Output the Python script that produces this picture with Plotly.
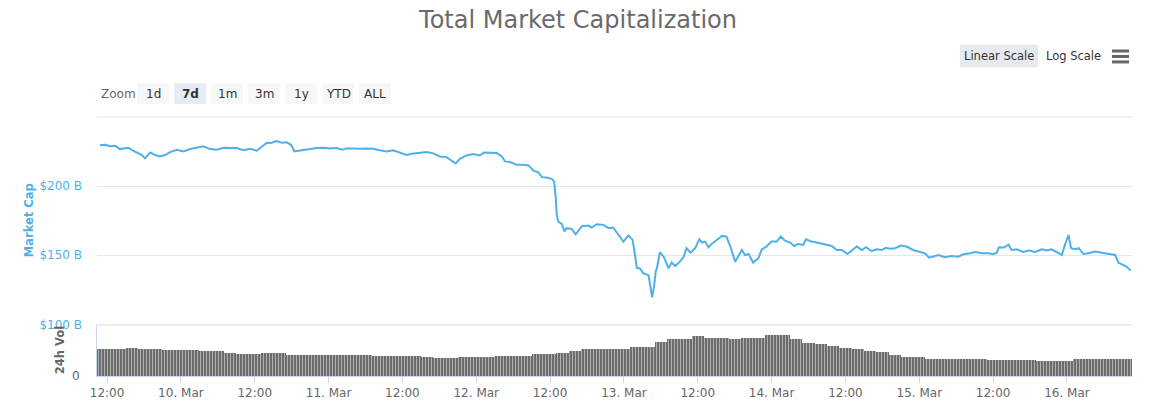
import pandas as pd
import plotly.graph_objects as go

# ---------------- data ----------------
mc_times = [
    "2020-03-09 10:50", "2020-03-09 11:40", "2020-03-09 12:30", "2020-03-09 13:20", "2020-03-09 14:05",
    "2020-03-09 14:40", "2020-03-09 15:30", "2020-03-09 16:00", "2020-03-09 16:50", "2020-03-09 17:40",
    "2020-03-09 18:10", "2020-03-09 19:00", "2020-03-09 19:50", "2020-03-09 20:35", "2020-03-09 21:25",
    "2020-03-09 22:15", "2020-03-09 23:20", "2020-03-10 00:25", "2020-03-10 01:30", "2020-03-10 02:35",
    "2020-03-10 03:40", "2020-03-10 04:45", "2020-03-10 05:50", "2020-03-10 06:55", "2020-03-10 08:00",
    "2020-03-10 09:05", "2020-03-10 10:10", "2020-03-10 11:15", "2020-03-10 12:20", "2020-03-10 13:10",
    "2020-03-10 13:55", "2020-03-10 14:45", "2020-03-10 15:30", "2020-03-10 16:25", "2020-03-10 17:10",
    "2020-03-10 17:55", "2020-03-10 18:25", "2020-03-10 19:05", "2020-03-10 19:55", "2020-03-10 21:00",
    "2020-03-10 22:05", "2020-03-10 23:10", "2020-03-11 00:15", "2020-03-11 01:20", "2020-03-11 02:10",
    "2020-03-11 02:55", "2020-03-11 04:00", "2020-03-11 05:05", "2020-03-11 06:10", "2020-03-11 07:15",
    "2020-03-11 08:20", "2020-03-11 09:25", "2020-03-11 10:30", "2020-03-11 11:35", "2020-03-11 12:40",
    "2020-03-11 13:30", "2020-03-11 14:35", "2020-03-11 15:55", "2020-03-11 17:00", "2020-03-11 18:05",
    "2020-03-11 19:10", "2020-03-11 20:00", "2020-03-11 20:40", "2020-03-11 21:20", "2020-03-11 22:25",
    "2020-03-11 23:30", "2020-03-12 00:35", "2020-03-12 01:15", "2020-03-12 02:15", "2020-03-12 03:20",
    "2020-03-12 04:10", "2020-03-12 04:40", "2020-03-12 05:30", "2020-03-12 06:35", "2020-03-12 07:40",
    "2020-03-12 08:30", "2020-03-12 09:15", "2020-03-12 10:05", "2020-03-12 10:40", "2020-03-12 11:25",
    "2020-03-12 12:15", "2020-03-12 12:40", "2020-03-12 12:55", "2020-03-12 13:05", "2020-03-12 13:20",
    "2020-03-12 13:55", "2020-03-12 14:20", "2020-03-12 14:40", "2020-03-12 15:30", "2020-03-12 16:10",
    "2020-03-12 17:10", "2020-03-12 18:15", "2020-03-12 18:45", "2020-03-12 19:35", "2020-03-12 20:40",
    "2020-03-12 21:30", "2020-03-12 22:15", "2020-03-12 23:05", "2020-03-12 23:55", "2020-03-13 00:45",
    "2020-03-13 01:25", "2020-03-13 01:50", "2020-03-13 02:05", "2020-03-13 02:35", "2020-03-13 03:10",
    "2020-03-13 04:00", "2020-03-13 04:20", "2020-03-13 04:35", "2020-03-13 04:55", "2020-03-13 05:10",
    "2020-03-13 05:25", "2020-03-13 05:50", "2020-03-13 06:30", "2020-03-13 07:15", "2020-03-13 07:45",
    "2020-03-13 08:20", "2020-03-13 09:05", "2020-03-13 09:40", "2020-03-13 10:10", "2020-03-13 10:50",
    "2020-03-13 11:35", "2020-03-13 12:15", "2020-03-13 12:40", "2020-03-13 13:10", "2020-03-13 13:45",
    "2020-03-13 14:15", "2020-03-13 15:05", "2020-03-13 15:55", "2020-03-13 16:40", "2020-03-13 17:20",
    "2020-03-13 18:05", "2020-03-13 18:35", "2020-03-13 19:10", "2020-03-13 19:40", "2020-03-13 20:15",
    "2020-03-13 21:00", "2020-03-13 21:50", "2020-03-13 22:25", "2020-03-13 23:10", "2020-03-14 00:00",
    "2020-03-14 00:50", "2020-03-14 01:30", "2020-03-14 02:10", "2020-03-14 03:00", "2020-03-14 03:40",
    "2020-03-14 04:20", "2020-03-14 05:10", "2020-03-14 05:35", "2020-03-14 06:30", "2020-03-14 07:20",
    "2020-03-14 08:10", "2020-03-14 08:55", "2020-03-14 09:45", "2020-03-14 10:35", "2020-03-14 11:25",
    "2020-03-14 12:20", "2020-03-14 13:00", "2020-03-14 13:50", "2020-03-14 14:40", "2020-03-14 15:20",
    "2020-03-14 16:15", "2020-03-14 17:05", "2020-03-14 17:55", "2020-03-14 18:35", "2020-03-14 19:15",
    "2020-03-14 20:05", "2020-03-14 21:00", "2020-03-14 21:55", "2020-03-14 23:00", "2020-03-15 00:05",
    "2020-03-15 00:55", "2020-03-15 01:35", "2020-03-15 02:15", "2020-03-15 03:05", "2020-03-15 04:10",
    "2020-03-15 05:15", "2020-03-15 06:20", "2020-03-15 07:10", "2020-03-15 08:15", "2020-03-15 09:05",
    "2020-03-15 10:10", "2020-03-15 11:15", "2020-03-15 12:00", "2020-03-15 12:35", "2020-03-15 12:55",
    "2020-03-15 13:45", "2020-03-15 14:30", "2020-03-15 15:00", "2020-03-15 15:50", "2020-03-15 16:55",
    "2020-03-15 17:45", "2020-03-15 18:50", "2020-03-15 19:55", "2020-03-15 20:40", "2020-03-15 21:30",
    "2020-03-15 22:20", "2020-03-15 23:10", "2020-03-15 23:40", "2020-03-16 00:15", "2020-03-16 00:40",
    "2020-03-16 01:20", "2020-03-16 01:55", "2020-03-16 02:40", "2020-03-16 03:30", "2020-03-16 04:35",
    "2020-03-16 05:40", "2020-03-16 06:45", "2020-03-16 07:50", "2020-03-16 08:20", "2020-03-16 09:10",
    "2020-03-16 09:40", "2020-03-16 10:20",
]
mc_values = [
    229.5, 229.9, 228.8, 229.2, 226.8, 227.0, 227.8, 226.3, 224.6, 222.5,
    220.1, 224.4, 222.5, 221.5, 222.5, 224.6, 226.3, 225.1, 226.8, 228.0,
    228.8, 226.8, 226.3, 227.8, 227.8, 227.5, 225.9, 227.0, 225.6, 228.8,
    231.2, 231.4, 232.6, 231.4, 231.7, 229.9, 225.1, 225.6, 225.9, 226.8,
    227.5, 227.8, 227.3, 227.5, 226.3, 227.3, 227.3, 227.0, 227.3, 227.0,
    225.9, 225.1, 225.9, 224.4, 222.5, 223.4, 223.9, 224.6, 223.7, 221.5,
    221.0, 218.3, 216.4, 219.8, 222.2, 223.2, 222.2, 224.4, 224.4, 223.9,
    221.5, 217.9, 217.4, 215.4, 215.4, 215.0, 211.4, 209.9, 206.5, 206.3,
    205.3, 203.4, 191.3, 179.2, 174.4, 172.5, 167.2, 169.6, 169.1, 165.2,
    171.0, 171.5, 170.1, 172.5, 172.0, 169.6, 170.1, 164.7, 159.9, 164.3,
    161.1, 149.0, 141.0, 140.5, 136.9, 135.5, 127.3, 119.5, 128.5, 138.2,
    141.8, 152.3, 148.6, 140.6, 144.7, 142.2, 145.4, 148.6, 155.1, 152.0,
    155.1, 161.6, 159.2, 159.9, 155.8, 158.2, 161.1, 164.0, 163.5, 155.8,
    145.4, 149.5, 153.8, 150.2, 150.9, 144.7, 147.8, 154.3, 156.3, 159.9,
    159.9, 163.5, 160.6, 159.2, 156.7, 158.2, 157.5, 161.6, 159.9, 159.2,
    158.2, 157.2, 156.7, 153.8, 153.8, 150.9, 153.4, 156.3, 153.8, 155.8,
    153.1, 154.3, 153.8, 155.4, 154.8, 155.1, 157.0, 156.3, 153.8, 152.7,
    151.4, 148.3, 149.0, 150.2, 148.6, 149.5, 149.0, 150.7, 151.4, 152.4,
    151.4, 151.4, 150.7, 151.9, 155.8, 155.6, 157.7, 153.8, 154.3, 152.4,
    153.4, 152.4, 154.3, 153.4, 154.3, 152.4, 150.2, 157.5, 164.7, 155.1,
    154.3, 155.1, 150.9, 151.4, 152.7, 151.9, 150.9, 150.2, 144.7, 142.9,
    141.8, 138.9,
]

# 24h volume (billions USD), sampled every 2 hours from 2020-03-09 10:00
vol_start = "2020-03-09 10:00"
vol_values = [
    137.5, 137.5, 137.5, 142.5, 140.0, 137.5, 132.5, 135.0, 132.5, 127.5,
    127.5, 120.0, 112.5, 112.5, 117.5, 117.5, 110.0, 107.5, 107.5, 107.5,
    107.5, 107.5, 107.5, 102.5, 102.5, 102.5, 102.5, 97.5, 92.5, 92.5,
    97.5, 97.5, 97.5, 102.5, 102.5, 102.5, 112.5, 112.5, 119.0, 129.0,
    141.0, 141.0, 141.0, 141.0, 149.0, 149.0, 172.5, 187.5, 192.5, 206.0,
    196.0, 196.0, 187.5, 194.0, 194.0, 211.0, 210.0, 189.0, 171.0, 165.0,
    156.0, 142.5, 136.0, 130.0, 122.5, 109.0, 97.5, 97.5, 89.0, 89.0,
    89.0, 89.0, 89.0, 82.5, 81.0, 81.0, 81.0, 76.0, 76.0, 77.5,
    87.5, 87.5, 87.5, 87.5, 87.5,
]
vol_times = pd.date_range(vol_start, periods=len(vol_values), freq="2h")

x_tick_times = [
    "2020-03-09 12:00", "2020-03-10 00:00", "2020-03-10 12:00", "2020-03-11 00:00",
    "2020-03-11 12:00", "2020-03-12 00:00", "2020-03-12 12:00", "2020-03-13 00:00",
    "2020-03-13 12:00", "2020-03-14 00:00", "2020-03-14 12:00", "2020-03-15 00:00",
    "2020-03-15 12:00", "2020-03-16 00:00",
]
x_tick_labels = [
    "12:00", "10. Mar", "12:00", "11. Mar", "12:00", "12. Mar", "12:00", "13. Mar",
    "12:00", "14. Mar", "12:00", "15. Mar", "12:00", "16. Mar",
]
x_range = ["2020-03-09 10:22", "2020-03-16 10:34"]

mc_tick_vals = [100, 150, 200, 250]
mc_tick_labels = ["$100 B", "$150 B", "$200 B", ""]
zoom_buttons = ["1d", "7d", "1m", "3m", "1y", "YTD", "ALL"]
selected_zoom = "7d"

# ---------------- style ----------------
W, H = 1156, 412
PL, PR, PT, PB = 97, 1132, 117, 378
FONT = "DejaVu Sans"
BLUE = "#4fb0e9"
GRAY = "#666666"


def px(x):
    return (x - PL) / (PR - PL)


def py(y):
    return (PB - y) / (PB - PT)


fig = go.Figure()
fig.add_trace(go.Bar(
    x=vol_times, y=vol_values, xaxis="x", yaxis="y",
    marker=dict(color="#6c6c6c", line=dict(width=0),
                pattern=dict(shape="|", fgcolor="#ffffff", size=3, solidity=0.3)),
    hoverinfo="x+y", name="24h Vol",
))
fig.add_trace(go.Scatter(
    x=mc_times, y=mc_values, xaxis="x2", yaxis="y2", mode="lines",
    line=dict(color=BLUE, width=2), name="Market Cap",
))

shapes = []
annotations = []

# zoom buttons
annotations.append(dict(x=px(99), y=py(94), xref="paper", yref="paper", text="Zoom",
                        showarrow=False, xanchor="left", yanchor="middle",
                        font=dict(family=FONT, size=12, color=GRAY)))
for i, lab in enumerate(zoom_buttons):
    x0 = 137 + 37 * i
    sel = lab == selected_zoom
    shapes.append(dict(type="rect", xref="paper", yref="paper", x0=px(x0), x1=px(x0 + 32),
                       y0=py(104), y1=py(83), fillcolor="#e6ebf5" if sel else "#f7f7f7",
                       line=dict(width=0), layer="below"))
    annotations.append(dict(x=px(x0 + 16), y=py(93.5), xref="paper", yref="paper",
                            text=f"<b>{lab}</b>" if sel else lab, showarrow=False,
                            xanchor="center", yanchor="middle",
                            font=dict(family=FONT, size=12, color="#333333")))

# scale buttons
shapes.append(dict(type="rect", xref="paper", yref="paper", x0=px(960), x1=px(1038),
                   y0=py(67), y1=py(44), fillcolor="#e6e9ee", line=dict(width=0), layer="below"))
annotations.append(dict(x=px(999), y=py(56), xref="paper", yref="paper", text="Linear Scale",
                        showarrow=False, xanchor="center", yanchor="middle",
                        font=dict(family=FONT, size=11.5, color="#333333")))
annotations.append(dict(x=px(1073), y=py(56), xref="paper", yref="paper", text="Log Scale",
                        showarrow=False, xanchor="center", yanchor="middle",
                        font=dict(family=FONT, size=11.5, color="#333333")))
for yy in (50.5, 56, 61.5):
    shapes.append(dict(type="line", xref="paper", yref="paper", x0=px(1112), x1=px(1129),
                       y0=py(yy), y1=py(yy), line=dict(color=GRAY, width=3)))

# axis titles
annotations.append(dict(x=px(29), y=py(221), xref="paper", yref="paper", text="<b>Market Cap</b>",
                        showarrow=False, textangle=-90, xanchor="center", yanchor="middle",
                        font=dict(family=FONT, size=11.5, color=BLUE)))
annotations.append(dict(x=px(60), y=py(352), xref="paper", yref="paper", text="<b>24h Vol</b>",
                        showarrow=False, textangle=-90, xanchor="center", yanchor="middle",
                        font=dict(family=FONT, size=11.5, color=GRAY)))

# top gridline of the market-cap pane and top border of volume pane
shapes.append(dict(type="line", xref="paper", yref="paper", x0=0, x1=1, y0=1, y1=1,
                   line=dict(color="#e6e6e6", width=1), layer="below"))
shapes.append(dict(type="line", xref="paper", yref="paper", x0=0, x1=1, y0=py(326.5), y1=py(326.5),
                   line=dict(color="#e6e6e6", width=1.5)))

fig.update_layout(
    width=W, height=H,
    margin=dict(l=PL, r=W - PR, t=PT, b=H - PB, pad=0),
    paper_bgcolor="white", plot_bgcolor="white",
    showlegend=False, bargap=0,
    font=dict(family=FONT, size=12, color=GRAY),
    title=dict(text="Total Market Capitalization", x=0.5, xanchor="center",
               y=1 - 20 / H, yanchor="middle", yref="container",
               font=dict(family=FONT, size=24, color="#6a6a6a")),
    xaxis=dict(domain=[0, 1], anchor="y", range=x_range, type="date",
               tickvals=x_tick_times, ticktext=x_tick_labels,
               ticks="outside", ticklen=6, tickcolor="#ccd6eb", tickwidth=1,
               showline=True, linecolor="#ccd6eb", linewidth=1,
               showgrid=False, zeroline=False,
               tickfont=dict(family=FONT, size=12, color=GRAY)),
    xaxis2=dict(domain=[0, 1], anchor="y2", matches="x", type="date",
                showticklabels=False, showgrid=False, showline=False, zeroline=False,
                tickvals=x_tick_times),
    yaxis=dict(domain=[0, py(326.7)], range=[0, 262], tickvals=[0], ticktext=["0"],
               showgrid=False, zeroline=False, showline=True, linecolor="#ccd6eb",
               ticks="", ticklabelstandoff=14,
               tickfont=dict(family=FONT, size=12, color=GRAY)),
    yaxis2=dict(domain=[py(326), 1], range=[100, 250], tickvals=mc_tick_vals,
                ticktext=mc_tick_labels, showgrid=True, gridcolor="#e6e6e6", gridwidth=1,
                zeroline=False, showline=False, ticks="", ticklabelstandoff=14,
                tickfont=dict(family=FONT, size=12, color=BLUE)),
    shapes=shapes, annotations=annotations,
)

fig.write_html("out.html")
